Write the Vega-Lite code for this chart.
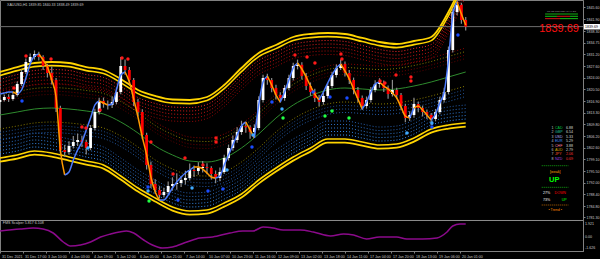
{
"$schema": "https://vega.github.io/schema/vega-lite/v6.json",
"background": "#000000",
"autosize": "none",
"padding": {"left": 0, "top": 0, "right": 17, "bottom": 8},
"width": 583,
"height": 251,
"config": {
  "view": {"stroke": "#808080", "strokeWidth": 1},
  "font": "Liberation Sans",
  "axis": {"grid": false, "labelFont": "Liberation Sans", "labelFontSize": 3.6, "labelColor": "#c8c8c8", "domainColor": "#808080", "tickColor": "#808080", "tickSize": 2, "labelPadding": 1}
},
"resolve": {"scale": {"x": "independent", "y": "independent", "color": "independent"}, "axis": {"x": "independent", "y": "independent"}},
"datasets": {
  "bands": [
    {"i":0,"u":1825.81,"m":1812.65,"lo":1799.50},
    {"i":12,"u":1827.33,"m":1813.57,"lo":1800.42},
    {"i":24,"u":1828.56,"m":1814.49,"lo":1801.64},
    {"i":36,"u":1828.86,"m":1814.79,"lo":1801.03},
    {"i":48,"u":1828.56,"m":1814.49,"lo":1799.80},
    {"i":60,"u":1827.33,"m":1813.88,"lo":1798.58},
    {"i":72,"u":1826.42,"m":1812.96,"lo":1797.36},
    {"i":84,"u":1823.67,"m":1810.51,"lo":1793.99},
    {"i":96,"u":1820.30,"m":1807.14,"lo":1790.32},
    {"i":108,"u":1818.47,"m":1803.17,"lo":1787.27},
    {"i":120,"u":1817.39,"m":1800.42,"lo":1784.51},
    {"i":132,"u":1817.24,"m":1798.58,"lo":1783.29},
    {"i":144,"u":1818.16,"m":1798.27,"lo":1783.59},
    {"i":156,"u":1821.83,"m":1799.50,"lo":1785.73},
    {"i":168,"u":1827.03,"m":1802.56,"lo":1788.48},
    {"i":180,"u":1831.62,"m":1806.84,"lo":1792.77},
    {"i":192,"u":1834.06,"m":1811.73,"lo":1796.44},
    {"i":204,"u":1836.51,"m":1815.71,"lo":1799.80},
    {"i":216,"u":1837.43,"m":1818.47,"lo":1802.56},
    {"i":228,"u":1837.74,"m":1820.30,"lo":1805.31},
    {"i":240,"u":1837.43,"m":1820.91,"lo":1805.31},
    {"i":252,"u":1836.21,"m":1820.61,"lo":1804.39},
    {"i":264,"u":1834.98,"m":1820.30,"lo":1803.47},
    {"i":276,"u":1834.37,"m":1820.61,"lo":1803.78},
    {"i":288,"u":1835.29,"m":1821.52,"lo":1805.62},
    {"i":300,"u":1836.51,"m":1822.75,"lo":1808.37},
    {"i":312,"u":1844.16,"m":1824.28,"lo":1809.59},
    {"i":324,"u":1855.48,"m":1825.81,"lo":1810.20}
  ],
  "candles": [
    {"i":0,"o":1816.63,"c":1817.24,"h":1818.2,"l":1815.9},
    {"i":3,"o":1817.24,"c":1818.16,"h":1818.9,"l":1816.8},
    {"i":6,"o":1818.16,"c":1817.55,"h":1819.0,"l":1816.6},
    {"i":9,"o":1817.55,"c":1818.77,"h":1819.8,"l":1817.0},
    {"i":12,"o":1818.77,"c":1822.13,"h":1822.9,"l":1818.3},
    {"i":15,"o":1822.13,"c":1825.81,"h":1826.6,"l":1821.5},
    {"i":18,"o":1825.81,"c":1828.86,"h":1829.9,"l":1825.2},
    {"i":21,"o":1828.86,"c":1830.39,"h":1831.5,"l":1828.0},
    {"i":24,"o":1830.39,"c":1831.31,"h":1832.4,"l":1829.6},
    {"i":27,"o":1831.31,"c":1830.39,"h":1832.0,"l":1829.3},
    {"i":30,"o":1830.39,"c":1827.64,"h":1830.9,"l":1826.4},
    {"i":33,"o":1827.64,"c":1825.50,"h":1828.3,"l":1824.1},
    {"i":36,"o":1825.50,"c":1823.36,"h":1827.5,"l":1822.0},
    {"i":39,"o":1823.36,"c":1814.79,"h":1824.0,"l":1813.6},
    {"i":42,"o":1814.79,"c":1801.94,"h":1815.5,"l":1800.8},
    {"i":45,"o":1801.94,"c":1801.33,"h":1803.5,"l":1799.9},
    {"i":48,"o":1801.33,"c":1803.17,"h":1804.6,"l":1800.5},
    {"i":51,"o":1803.17,"c":1804.39,"h":1806.2,"l":1802.4},
    {"i":54,"o":1804.39,"c":1805.00,"h":1807.0,"l":1803.2},
    {"i":57,"o":1805.00,"c":1804.39,"h":1806.3,"l":1802.9},
    {"i":60,"o":1804.39,"c":1802.56,"h":1805.1,"l":1800.6},
    {"i":63,"o":1802.56,"c":1808.67,"h":1809.6,"l":1801.9},
    {"i":66,"o":1808.67,"c":1813.57,"h":1814.6,"l":1807.9},
    {"i":69,"o":1813.57,"c":1816.93,"h":1817.9,"l":1812.8},
    {"i":72,"o":1816.93,"c":1816.02,"h":1818.0,"l":1814.9},
    {"i":75,"o":1816.02,"c":1815.70,"h":1817.1,"l":1814.3},
    {"i":78,"o":1815.70,"c":1816.63,"h":1818.4,"l":1814.8},
    {"i":81,"o":1816.63,"c":1819.69,"h":1821.0,"l":1815.9},
    {"i":84,"o":1819.69,"c":1827.64,"h":1830.4,"l":1819.0},
    {"i":87,"o":1827.64,"c":1826.42,"h":1829.6,"l":1825.0},
    {"i":90,"o":1826.42,"c":1823.36,"h":1827.3,"l":1822.2},
    {"i":93,"o":1823.36,"c":1816.63,"h":1824.0,"l":1815.4},
    {"i":96,"o":1816.63,"c":1813.57,"h":1817.6,"l":1812.3},
    {"i":99,"o":1813.57,"c":1806.53,"h":1814.4,"l":1805.2},
    {"i":102,"o":1806.53,"c":1797.36,"h":1807.2,"l":1796.0},
    {"i":105,"o":1797.36,"c":1791.54,"h":1798.4,"l":1790.3},
    {"i":108,"o":1791.54,"c":1789.71,"h":1793.0,"l":1788.6},
    {"i":111,"o":1789.71,"c":1788.18,"h":1790.9,"l":1787.2},
    {"i":114,"o":1788.18,"c":1789.10,"h":1790.4,"l":1787.4},
    {"i":117,"o":1789.10,"c":1790.93,"h":1792.3,"l":1788.5},
    {"i":120,"o":1790.93,"c":1791.54,"h":1793.6,"l":1789.5},
    {"i":123,"o":1791.54,"c":1791.85,"h":1794.8,"l":1789.8},
    {"i":126,"o":1791.85,"c":1792.77,"h":1794.0,"l":1790.6},
    {"i":129,"o":1792.77,"c":1793.38,"h":1795.6,"l":1791.4},
    {"i":132,"o":1793.38,"c":1795.83,"h":1797.8,"l":1792.6},
    {"i":135,"o":1795.83,"c":1795.52,"h":1797.2,"l":1793.7},
    {"i":138,"o":1795.52,"c":1796.44,"h":1798.2,"l":1794.4},
    {"i":141,"o":1796.44,"c":1796.75,"h":1798.6,"l":1795.1},
    {"i":144,"o":1796.75,"c":1796.44,"h":1797.9,"l":1794.5},
    {"i":147,"o":1796.44,"c":1794.60,"h":1797.0,"l":1792.9},
    {"i":150,"o":1794.60,"c":1793.38,"h":1795.7,"l":1791.8},
    {"i":153,"o":1793.38,"c":1795.22,"h":1796.6,"l":1792.4},
    {"i":156,"o":1795.22,"c":1799.50,"h":1800.5,"l":1794.6},
    {"i":159,"o":1799.50,"c":1802.56,"h":1803.6,"l":1798.7},
    {"i":162,"o":1802.56,"c":1805.00,"h":1806.4,"l":1801.7},
    {"i":165,"o":1805.00,"c":1807.45,"h":1808.9,"l":1804.2},
    {"i":168,"o":1807.45,"c":1809.29,"h":1810.9,"l":1806.6},
    {"i":171,"o":1809.29,"c":1808.90,"h":1810.6,"l":1807.2},
    {"i":174,"o":1808.90,"c":1807.45,"h":1809.5,"l":1805.4},
    {"i":177,"o":1807.45,"c":1808.67,"h":1809.8,"l":1805.9},
    {"i":180,"o":1808.67,"c":1817.24,"h":1818.4,"l":1808.0},
    {"i":183,"o":1817.24,"c":1823.97,"h":1825.0,"l":1816.5},
    {"i":186,"o":1823.97,"c":1823.36,"h":1825.3,"l":1821.9},
    {"i":189,"o":1823.36,"c":1820.91,"h":1824.0,"l":1819.6},
    {"i":192,"o":1820.91,"c":1818.77,"h":1821.9,"l":1817.4},
    {"i":195,"o":1818.77,"c":1817.85,"h":1819.6,"l":1816.4},
    {"i":198,"o":1817.85,"c":1820.91,"h":1821.8,"l":1817.0},
    {"i":201,"o":1820.91,"c":1823.97,"h":1825.0,"l":1820.2},
    {"i":204,"o":1823.97,"c":1827.64,"h":1828.6,"l":1823.2},
    {"i":207,"o":1827.64,"c":1828.00,"h":1829.6,"l":1826.6},
    {"i":210,"o":1828.00,"c":1824.58,"h":1828.8,"l":1823.5},
    {"i":213,"o":1824.58,"c":1821.52,"h":1825.5,"l":1820.3},
    {"i":216,"o":1821.52,"c":1819.69,"h":1822.6,"l":1818.5},
    {"i":219,"o":1819.69,"c":1817.85,"h":1820.7,"l":1816.6},
    {"i":222,"o":1817.85,"c":1816.63,"h":1818.8,"l":1815.3},
    {"i":225,"o":1816.63,"c":1818.47,"h":1819.5,"l":1815.8},
    {"i":228,"o":1818.47,"c":1821.52,"h":1822.5,"l":1817.7},
    {"i":231,"o":1821.52,"c":1824.89,"h":1825.9,"l":1820.8},
    {"i":234,"o":1824.89,"c":1827.03,"h":1828.1,"l":1824.1},
    {"i":237,"o":1827.03,"c":1828.25,"h":1829.6,"l":1826.4},
    {"i":240,"o":1828.25,"c":1825.50,"h":1829.0,"l":1824.4},
    {"i":243,"o":1825.50,"c":1823.36,"h":1826.4,"l":1822.1},
    {"i":246,"o":1823.36,"c":1820.30,"h":1824.1,"l":1819.0},
    {"i":249,"o":1820.30,"c":1817.85,"h":1821.2,"l":1816.6},
    {"i":252,"o":1817.85,"c":1815.40,"h":1818.6,"l":1814.2},
    {"i":255,"o":1815.40,"c":1817.24,"h":1818.3,"l":1814.6},
    {"i":258,"o":1817.24,"c":1820.30,"h":1821.2,"l":1816.5},
    {"i":261,"o":1820.30,"c":1822.13,"h":1823.3,"l":1819.6},
    {"i":264,"o":1822.13,"c":1822.44,"h":1823.9,"l":1821.0},
    {"i":267,"o":1822.44,"c":1820.91,"h":1823.2,"l":1819.7},
    {"i":270,"o":1820.91,"c":1819.07,"h":1821.7,"l":1817.6},
    {"i":273,"o":1819.07,"c":1820.30,"h":1823.4,"l":1818.3},
    {"i":276,"o":1820.30,"c":1818.77,"h":1821.0,"l":1817.6},
    {"i":279,"o":1818.77,"c":1815.40,"h":1819.4,"l":1814.1},
    {"i":282,"o":1815.40,"c":1811.73,"h":1816.1,"l":1810.4},
    {"i":285,"o":1811.73,"c":1812.65,"h":1813.8,"l":1810.8},
    {"i":288,"o":1812.65,"c":1816.02,"h":1817.9,"l":1811.8},
    {"i":291,"o":1816.02,"c":1814.79,"h":1816.8,"l":1813.5},
    {"i":294,"o":1814.79,"c":1813.57,"h":1815.5,"l":1812.2},
    {"i":297,"o":1813.57,"c":1812.65,"h":1814.3,"l":1811.4},
    {"i":300,"o":1812.65,"c":1811.43,"h":1813.3,"l":1809.5},
    {"i":303,"o":1811.43,"c":1813.57,"h":1814.5,"l":1810.7},
    {"i":306,"o":1813.57,"c":1817.24,"h":1818.2,"l":1812.9},
    {"i":309,"o":1817.24,"c":1819.69,"h":1821.0,"l":1816.5},
    {"i":312,"o":1819.69,"c":1832.53,"h":1833.6,"l":1819.0},
    {"i":315,"o":1832.53,"c":1844.16,"h":1845.3,"l":1831.8},
    {"i":318,"o":1844.16,"c":1846.30,"h":1847.6,"l":1843.2},
    {"i":321,"o":1846.30,"c":1841.71,"h":1847.0,"l":1840.6},
    {"i":324,"o":1841.71,"c":1839.69,"h":1842.6,"l":1838.5}
  ],
  "ma": [
    {"s":1,"d":"up","i":0,"v":1819.07},{"s":1,"d":"up","i":3,"v":1819.38},{"s":1,"d":"up","i":6,"v":1819.69},{"s":1,"d":"up","i":9,"v":1819.69},
    {"s":2,"d":"down","i":9,"v":1819.69},{"s":2,"d":"down","i":12,"v":1819.07},
    {"s":3,"d":"up","i":12,"v":1819.07},{"s":3,"d":"up","i":15,"v":1820.30},{"s":3,"d":"up","i":18,"v":1823.97},{"s":3,"d":"up","i":21,"v":1828.25},{"s":3,"d":"up","i":24,"v":1830.70},{"s":3,"d":"up","i":27,"v":1831.31},
    {"s":4,"d":"down","i":27,"v":1831.31},{"s":4,"d":"down","i":30,"v":1829.48},{"s":4,"d":"down","i":33,"v":1827.33},{"s":4,"d":"down","i":36,"v":1823.36},{"s":4,"d":"down","i":39,"v":1818.16},{"s":4,"d":"down","i":42,"v":1801.94},{"s":4,"d":"down","i":45,"v":1794.30},
    {"s":5,"d":"up","i":45,"v":1794.30},{"s":5,"d":"up","i":48,"v":1795.22},{"s":5,"d":"up","i":51,"v":1798.89},{"s":5,"d":"up","i":54,"v":1801.94},{"s":5,"d":"up","i":57,"v":1804.39},{"s":5,"d":"up","i":60,"v":1808.06},{"s":5,"d":"up","i":63,"v":1811.73},{"s":5,"d":"up","i":66,"v":1815.71},{"s":5,"d":"up","i":69,"v":1816.93},
    {"s":6,"d":"down","i":69,"v":1816.93},{"s":6,"d":"down","i":72,"v":1816.32},{"s":6,"d":"down","i":75,"v":1815.71},
    {"s":7,"d":"up","i":75,"v":1815.71},{"s":7,"d":"up","i":78,"v":1816.02},{"s":7,"d":"up","i":81,"v":1820.30},{"s":7,"d":"up","i":84,"v":1824.89},{"s":7,"d":"up","i":87,"v":1825.81},
    {"s":8,"d":"down","i":87,"v":1825.81},{"s":8,"d":"down","i":90,"v":1822.75},{"s":8,"d":"down","i":93,"v":1817.55},{"s":8,"d":"down","i":96,"v":1812.04},{"s":8,"d":"down","i":99,"v":1805.92},{"s":8,"d":"down","i":102,"v":1800.42},{"s":8,"d":"down","i":105,"v":1793.69},{"s":8,"d":"down","i":108,"v":1789.10},{"s":8,"d":"down","i":111,"v":1786.65},
    {"s":9,"d":"up","i":111,"v":1786.65},{"s":9,"d":"up","i":114,"v":1786.65},{"s":9,"d":"up","i":117,"v":1788.18},{"s":9,"d":"up","i":120,"v":1790.32},{"s":9,"d":"up","i":123,"v":1792.16},{"s":9,"d":"up","i":126,"v":1793.69},{"s":9,"d":"up","i":129,"v":1794.91},{"s":9,"d":"up","i":132,"v":1795.83},{"s":9,"d":"up","i":135,"v":1796.75},
    {"s":10,"d":"down","i":135,"v":1796.75},{"s":10,"d":"down","i":138,"v":1796.75},{"s":10,"d":"down","i":141,"v":1796.13},{"s":10,"d":"down","i":144,"v":1794.91},{"s":10,"d":"down","i":147,"v":1793.69},{"s":10,"d":"down","i":150,"v":1793.38},
    {"s":11,"d":"up","i":150,"v":1793.38},{"s":11,"d":"up","i":153,"v":1793.99},{"s":11,"d":"up","i":156,"v":1797.36},{"s":11,"d":"up","i":159,"v":1800.42},{"s":11,"d":"up","i":162,"v":1803.47},{"s":11,"d":"up","i":165,"v":1806.53},{"s":11,"d":"up","i":168,"v":1809.29},{"s":11,"d":"up","i":171,"v":1810.51},
    {"s":12,"d":"down","i":171,"v":1810.51},{"s":12,"d":"down","i":174,"v":1808.06},{"s":12,"d":"down","i":177,"v":1805.62},
    {"s":13,"d":"up","i":177,"v":1805.62},{"s":13,"d":"up","i":180,"v":1815.71},{"s":13,"d":"up","i":183,"v":1822.75},{"s":13,"d":"up","i":186,"v":1824.58},
    {"s":14,"d":"down","i":186,"v":1824.58},{"s":14,"d":"down","i":189,"v":1821.83},{"s":14,"d":"down","i":192,"v":1818.77},{"s":14,"d":"down","i":195,"v":1816.63},
    {"s":15,"d":"up","i":195,"v":1816.63},{"s":15,"d":"up","i":198,"v":1819.69},{"s":15,"d":"up","i":201,"v":1823.36},{"s":15,"d":"up","i":204,"v":1827.03},{"s":15,"d":"up","i":207,"v":1828.56},
    {"s":16,"d":"down","i":207,"v":1828.56},{"s":16,"d":"down","i":210,"v":1826.72},{"s":16,"d":"down","i":213,"v":1824.28},{"s":16,"d":"down","i":216,"v":1821.52},{"s":16,"d":"down","i":219,"v":1819.07},{"s":16,"d":"down","i":222,"v":1817.24},
    {"s":17,"d":"up","i":222,"v":1817.24},{"s":17,"d":"up","i":225,"v":1819.69},{"s":17,"d":"up","i":228,"v":1822.44},{"s":17,"d":"up","i":231,"v":1824.89},{"s":17,"d":"up","i":234,"v":1827.03},{"s":17,"d":"up","i":237,"v":1828.25},
    {"s":18,"d":"down","i":237,"v":1828.25},{"s":18,"d":"down","i":240,"v":1826.11},{"s":18,"d":"down","i":243,"v":1823.67},{"s":18,"d":"down","i":246,"v":1820.61},{"s":18,"d":"down","i":249,"v":1817.55},{"s":18,"d":"down","i":252,"v":1814.49},
    {"s":19,"d":"up","i":252,"v":1814.49},{"s":19,"d":"up","i":255,"v":1816.63},{"s":19,"d":"up","i":258,"v":1819.69},{"s":19,"d":"up","i":261,"v":1822.13},{"s":19,"d":"up","i":264,"v":1822.75},
    {"s":20,"d":"down","i":264,"v":1822.75},{"s":20,"d":"down","i":267,"v":1821.52},{"s":20,"d":"down","i":270,"v":1820.61},{"s":20,"d":"down","i":273,"v":1819.38},{"s":20,"d":"down","i":276,"v":1817.85},{"s":20,"d":"down","i":279,"v":1815.10},{"s":20,"d":"down","i":282,"v":1812.35},{"s":20,"d":"down","i":285,"v":1811.73},
    {"s":21,"d":"up","i":285,"v":1811.73},{"s":21,"d":"up","i":288,"v":1814.79},
    {"s":22,"d":"down","i":288,"v":1814.79},{"s":22,"d":"down","i":291,"v":1815.40},{"s":22,"d":"down","i":294,"v":1814.18},{"s":22,"d":"down","i":297,"v":1812.65},{"s":22,"d":"down","i":300,"v":1811.12},
    {"s":23,"d":"up","i":300,"v":1811.12},{"s":23,"d":"up","i":303,"v":1812.96},{"s":23,"d":"up","i":306,"v":1816.32},{"s":23,"d":"up","i":309,"v":1819.69},{"s":23,"d":"up","i":312,"v":1829.48},{"s":23,"d":"up","i":315,"v":1843.24},{"s":23,"d":"up","i":318,"v":1847.22},
    {"s":24,"d":"down","i":318,"v":1847.22},{"s":24,"d":"down","i":321,"v":1843.55},{"s":24,"d":"down","i":324,"v":1840.18}
  ],
  "sig": [
    {"k":"r","i":9.7,"p":1820.91},{"k":"r","i":18.1,"p":1830.70},{"k":"r","i":35.5,"p":1829.78},{"k":"r","i":57,"p":1808.98},{"k":"r","i":59.8,"p":1808.67},{"k":"r","i":69.6,"p":1814.18},{"k":"r","i":84.9,"p":1830.09},{"k":"r","i":89,"p":1829.78},{"k":"r","i":105,"p":1804.39},{"k":"r","i":120.4,"p":1794.60},{"k":"r","i":128.7,"p":1799.50},{"k":"r","i":141.2,"p":1797.36},{"k":"r","i":150.3,"p":1805.6},{"k":"r","i":150.3,"p":1804.4},{"k":"r","i":205.2,"p":1831.01},{"k":"r","i":213.6,"p":1830.39},{"k":"r","i":219.1,"p":1828.56},{"k":"r","i":237.2,"p":1831.31},{"k":"r","i":237.9,"p":1829.78},{"k":"r","i":264.4,"p":1823.05},{"k":"r","i":267.8,"p":1822.44},{"k":"r","i":275.5,"p":1824.89},{"k":"r","i":285.9,"p":1824.28},{"k":"r","i":285.9,"p":1823.05},
    {"k":"b","i":15.3,"p":1816.93},{"k":"b","i":103,"p":1790.63},{"k":"b","i":123.8,"p":1786.65},{"k":"b","i":144.7,"p":1789.40},{"k":"b","i":155.1,"p":1790.01},{"k":"b","i":175.3,"p":1802.86},{"k":"b","i":189.2,"p":1816.63},{"k":"b","i":217.8,"p":1819.69},{"k":"b","i":229.6,"p":1818.16},{"k":"b","i":241.4,"p":1817.85},{"k":"b","i":300.5,"p":1808.98},{"k":"b","i":318.6,"p":1837.12},
    {"k":"lb","i":61.2,"p":1802.56},{"k":"lb","i":103,"p":1789.4},{"k":"lb","i":133.6,"p":1790.32},{"k":"lb","i":157.9,"p":1795.83},{"k":"lb","i":176,"p":1806.53},{"k":"lb","i":196.2,"p":1814.49},{"k":"lb","i":283.1,"p":1807.14},{"k":"lb","i":300.5,"p":1810.2},
    {"k":"g","i":103.7,"p":1786.34},{"k":"g","i":196.9,"p":1811.73},{"k":"g","i":226.1,"p":1812.35},{"k":"g","i":231,"p":1813.88},{"k":"g","i":242.8,"p":1811.73}
  ],
  "osc": [
    {"i":0,"v":0.887},{"i":14,"v":1.182},{"i":23,"v":1.330},{"i":30,"v":1.182},{"i":37,"v":0.591},{"i":44,"v":-0.739},{"i":49,"v":-1.330},{"i":56,"v":-1.182},{"i":63,"v":-0.739},{"i":70,"v":0},{"i":77,"v":0.443},{"i":83,"v":0.739},{"i":88,"v":0.887},{"i":93,"v":0.591},{"i":100,"v":-0.443},{"i":106,"v":-1.182},{"i":113,"v":-1.626},{"i":120,"v":-1.478},{"i":130,"v":-0.739},{"i":139,"v":-0.148},{"i":148,"v":0},{"i":160,"v":0.591},{"i":169,"v":0.887},{"i":176,"v":0.887},{"i":183,"v":1.478},{"i":190,"v":1.330},{"i":197,"v":1.035},{"i":209,"v":1.035},{"i":218,"v":0.739},{"i":230,"v":0.148},{"i":239,"v":0.443},{"i":246,"v":0.296},{"i":255,"v":-0.296},{"i":264,"v":0},{"i":276,"v":0},{"i":283,"v":-0.296},{"i":294,"v":-0.296},{"i":304,"v":-0.148},{"i":311,"v":0.739},{"i":315,"v":1.626},{"i":320,"v":1.921},{"i":324,"v":1.921}
  ],
  "hlines": [{"i":0,"i2":405.6,"p":1839.69,"k":"bid"},{"i":0,"i2":405.6,"p":1780.38,"k":"sep"}],
  "tag": [{"i":406.3,"i2":417.4,"p":1840.49,"p2":1838.81,"t":"1839.69","ti":407.0,"tp":1839.62}],
  "title": [{"i":4.9,"p":1846.3,"t":"XAUUSD,H1  1839.85 1840.33 1838.49 1839.69"}],
  "big": [{"i":402.8,"p":1839.08,"t":"1839.69"}],
  "tbl": [
    {"i":383.7,"p":1808.77,"t":"1"},{"i":383.7,"p":1807.36,"t":"2"},{"i":383.7,"p":1806.01,"t":"3"},{"i":383.7,"p":1804.64,"t":"4"},{"i":383.7,"p":1803.29,"t":"5"},{"i":383.7,"p":1801.95,"t":"6"},{"i":383.7,"p":1800.63,"t":"7"},{"i":383.7,"p":1799.32,"t":"8"},
    {"i":386.1,"p":1808.77,"t":"CAD"},{"i":386.1,"p":1807.36,"t":"GBP"},{"i":386.1,"p":1806.01,"t":"USD"},{"i":386.1,"p":1804.64,"t":"EUR"},{"i":386.1,"p":1803.29,"t":"CHF"},{"i":386.1,"p":1801.95,"t":"AUD"},{"i":386.1,"p":1800.63,"t":"JPY"},{"i":386.1,"p":1799.32,"t":"NZD"},
    {"i":393.8,"p":1808.77,"t":"6.88"},{"i":393.8,"p":1807.36,"t":"6.54"},{"i":393.8,"p":1806.01,"t":"5.33"},{"i":393.8,"p":1804.64,"t":"5.29"},{"i":393.8,"p":1803.29,"t":"3.88"},{"i":393.8,"p":1801.95,"t":"2.79"},{"i":393.8,"p":1800.63,"t":"2.06"},{"i":393.8,"p":1799.32,"t":"0.69"}
  ],
  "pnlc": [{"i":386.3,"p":1795.2,"t":"[weak]"},{"i":386.3,"p":1783.7,"t":"•   Trend   •"}],
  "pnll": [{"i":377.8,"p":1788.7,"t":"27%"},{"i":385.8,"p":1788.7,"t":"DOWN"},{"i":377.8,"p":1786.65,"t":"73%"},{"i":390.8,"p":1786.65,"t":"UP"}],
  "bigup": [{"i":385.6,"p":1792.67,"t":"UP"}],
  "prule": [{"i":376.9,"i2":395.4,"p":1797.14,"k":"g"},{"i":376.9,"i2":395.4,"p":1790.53,"k":"g"},{"i":376.9,"i2":395.4,"p":1785.12,"k":"o"}],
  "mini": [
    {"i":379.2,"i2":402.1,"p":1843.55,"k":"G"},
    {"i":379.2,"i2":387.5,"p":1842.84,"k":"G"},{"i":387.5,"i2":396.6,"p":1842.84,"k":"R"},{"i":396.6,"i2":402.1,"p":1842.84,"k":"G"},
    {"i":379.2,"i2":389.6,"p":1842.14,"k":"R"},{"i":389.6,"i2":402.1,"p":1842.14,"k":"G"}
  ],
  "minit": [{"i":390.6,"p":1844.35,"t":"M1  M5  M15  M30  H1  H4  D1"}],
  "osct": [{"i":2,"v":2.07,"t":"FMS Scalper 5.817 6.108"}],
  "oscl": [{"i":407.0,"v":1.921,"t":"1.921"},{"i":407.0,"v":0,"t":"0.00"},{"i":407.0,"v":-1.626,"t":"-1.626"}]
},
"encoding": {"x": {"field": "i", "type": "quantitative", "scale": {"domain": [0, 405.6]}, "axis": null}},
"layer": [
  {"data": {"name": "bands"}, "mark": {"type": "line", "color": "#ff2a2a", "strokeWidth": 1, "strokeDash": [1, 2], "interpolate": "monotone", "clip": true, "yOffset": 7.5}, "encoding": {"y": {"field": "u", "type": "quantitative", "scale": {"domain": [1771.05, 1847.83]}, "axis": {"orient": "right", "title": null, "values": [1781.3,1784.8,1788.4,1792,1795.5,1799.1,1802.6,1806.2,1809.8,1813.3,1816.9,1820.5,1824,1827.6,1831.2,1834.75,1838.3,1841.9,1845.6], "format": ".2f", "labelFlush": false, "labelOverlap": false, "labelBound": false}}}},
  {"data": {"name": "bands"}, "mark": {"type": "line", "color": "#e01c1c", "strokeWidth": 1, "strokeDash": [1, 2], "interpolate": "monotone", "clip": true, "yOffset": 11}, "encoding": {"y": {"field": "u", "type": "quantitative", "scale": {"domain": [1771.05, 1847.83]}, "axis": null}}},
  {"data": {"name": "bands"}, "mark": {"type": "line", "color": "#c81414", "strokeWidth": 1, "strokeDash": [1, 2], "interpolate": "monotone", "clip": true, "yOffset": 14.5}, "encoding": {"y": {"field": "u", "type": "quantitative", "scale": {"domain": [1771.05, 1847.83]}, "axis": null}}},
  {"data": {"name": "bands"}, "mark": {"type": "line", "color": "#b00c0c", "strokeWidth": 1, "strokeDash": [1, 2], "interpolate": "monotone", "clip": true, "yOffset": 18}, "encoding": {"y": {"field": "u", "type": "quantitative", "scale": {"domain": [1771.05, 1847.83]}, "axis": null}}},
  {"data": {"name": "bands"}, "mark": {"type": "line", "color": "#980808", "strokeWidth": 1, "strokeDash": [1, 2], "interpolate": "monotone", "clip": true, "yOffset": 21.5}, "encoding": {"y": {"field": "u", "type": "quantitative", "scale": {"domain": [1771.05, 1847.83]}, "axis": null}}},
  {"data": {"name": "bands"}, "mark": {"type": "line", "color": "#880404", "strokeWidth": 1, "strokeDash": [1, 2], "interpolate": "monotone", "clip": true, "yOffset": -24}, "encoding": {"y": {"field": "m", "type": "quantitative", "scale": {"domain": [1771.05, 1847.83]}, "axis": null}}},
  {"data": {"name": "bands"}, "mark": {"type": "line", "color": "#8a7d00", "strokeWidth": 1, "strokeDash": [1, 2], "interpolate": "monotone", "clip": true, "yOffset": -20.5}, "encoding": {"y": {"field": "m", "type": "quantitative", "scale": {"domain": [1771.05, 1847.83]}, "axis": null}}},
  {"data": {"name": "bands"}, "mark": {"type": "line", "color": "#700000", "strokeWidth": 1, "strokeDash": [1, 2], "interpolate": "monotone", "clip": true, "yOffset": -17}, "encoding": {"y": {"field": "m", "type": "quantitative", "scale": {"domain": [1771.05, 1847.83]}, "axis": null}}},
  {"data": {"name": "bands"}, "mark": {"type": "line", "color": "#5c0000", "strokeWidth": 1, "strokeDash": [1, 2], "interpolate": "monotone", "clip": true, "yOffset": -13.5}, "encoding": {"y": {"field": "m", "type": "quantitative", "scale": {"domain": [1771.05, 1847.83]}, "axis": null}}},
  {"data": {"name": "bands"}, "mark": {"type": "line", "color": "#3a90f0", "strokeWidth": 1, "strokeDash": [1, 2], "interpolate": "monotone", "clip": true, "yOffset": -4}, "encoding": {"y": {"field": "lo", "type": "quantitative", "scale": {"domain": [1771.05, 1847.83]}, "axis": null}}},
  {"data": {"name": "bands"}, "mark": {"type": "line", "color": "#3584e0", "strokeWidth": 1, "strokeDash": [1, 2], "interpolate": "monotone", "clip": true, "yOffset": -7.5}, "encoding": {"y": {"field": "lo", "type": "quantitative", "scale": {"domain": [1771.05, 1847.83]}, "axis": null}}},
  {"data": {"name": "bands"}, "mark": {"type": "line", "color": "#3078d0", "strokeWidth": 1, "strokeDash": [1, 2], "interpolate": "monotone", "clip": true, "yOffset": -11}, "encoding": {"y": {"field": "lo", "type": "quantitative", "scale": {"domain": [1771.05, 1847.83]}, "axis": null}}},
  {"data": {"name": "bands"}, "mark": {"type": "line", "color": "#2b6cc0", "strokeWidth": 1, "strokeDash": [1, 2], "interpolate": "monotone", "clip": true, "yOffset": -14.5}, "encoding": {"y": {"field": "lo", "type": "quantitative", "scale": {"domain": [1771.05, 1847.83]}, "axis": null}}},
  {"data": {"name": "bands"}, "mark": {"type": "line", "color": "#2660b0", "strokeWidth": 1, "strokeDash": [1, 2], "interpolate": "monotone", "clip": true, "yOffset": -18}, "encoding": {"y": {"field": "lo", "type": "quantitative", "scale": {"domain": [1771.05, 1847.83]}, "axis": null}}},
  {"data": {"name": "bands"}, "mark": {"type": "line", "color": "#8a7d00", "strokeWidth": 1, "strokeDash": [1, 2], "interpolate": "monotone", "clip": true, "yOffset": 14}, "encoding": {"y": {"field": "m", "type": "quantitative", "scale": {"domain": [1771.05, 1847.83]}, "axis": null}}},
  {"data": {"name": "bands"}, "mark": {"type": "line", "color": "#1f4c8c", "strokeWidth": 1, "strokeDash": [1, 2], "interpolate": "monotone", "clip": true, "yOffset": 17.5}, "encoding": {"y": {"field": "m", "type": "quantitative", "scale": {"domain": [1771.05, 1847.83]}, "axis": null}}},
  {"data": {"name": "bands"}, "mark": {"type": "line", "color": "#22549a", "strokeWidth": 1, "strokeDash": [1, 2], "interpolate": "monotone", "clip": true, "yOffset": 21}, "encoding": {"y": {"field": "m", "type": "quantitative", "scale": {"domain": [1771.05, 1847.83]}, "axis": null}}},
  {"data": {"name": "bands"}, "mark": {"type": "line", "color": "#245aa6", "strokeWidth": 1, "strokeDash": [1, 2], "interpolate": "monotone", "clip": true, "yOffset": 24.5}, "encoding": {"y": {"field": "m", "type": "quantitative", "scale": {"domain": [1771.05, 1847.83]}, "axis": null}}},
  {"data": {"name": "bands"}, "mark": {"type": "line", "color": "#2e8b2e", "strokeWidth": 1, "interpolate": "monotone", "clip": true}, "encoding": {"y": {"field": "m", "type": "quantitative", "scale": {"domain": [1771.05, 1847.83]}, "axis": null}}},
  {"data": {"name": "bands"}, "mark": {"type": "line", "color": "#ffd400", "strokeWidth": 1.8, "interpolate": "monotone", "clip": true}, "encoding": {"y": {"field": "u", "type": "quantitative", "scale": {"domain": [1771.05, 1847.83]}, "axis": null}}},
  {"data": {"name": "bands"}, "mark": {"type": "line", "color": "#ffd400", "strokeWidth": 1.6, "interpolate": "monotone", "clip": true, "yOffset": 3.6}, "encoding": {"y": {"field": "u", "type": "quantitative", "scale": {"domain": [1771.05, 1847.83]}, "axis": null}}},
  {"data": {"name": "bands"}, "mark": {"type": "line", "color": "#ffd400", "strokeWidth": 1.6, "interpolate": "monotone", "clip": true}, "encoding": {"y": {"field": "lo", "type": "quantitative", "scale": {"domain": [1771.05, 1847.83]}, "axis": null}}},
  {"data": {"name": "bands"}, "mark": {"type": "line", "color": "#ffd400", "strokeWidth": 1.8, "interpolate": "monotone", "clip": true, "yOffset": 3.6}, "encoding": {"y": {"field": "lo", "type": "quantitative", "scale": {"domain": [1771.05, 1847.83]}, "axis": null}}},
  {"data": {"name": "hlines"}, "mark": {"type": "rule", "strokeWidth": 1}, "encoding": {"x2": {"field": "i2"}, "y": {"field": "p", "type": "quantitative", "scale": {"domain": [1771.05, 1847.83]}, "axis": null}, "color": {"field": "k", "type": "nominal", "scale": {"domain": ["bid", "sep"], "range": ["#6e6e6e", "#8c8c8c"]}, "legend": null}}},
  {"data": {"name": "candles"}, "mark": {"type": "rule", "color": "#8c8c8c", "strokeWidth": 1.2, "clip": true}, "encoding": {"y": {"field": "l", "type": "quantitative", "scale": {"domain": [1771.05, 1847.83]}, "axis": null}, "y2": {"field": "h"}}},
  {"data": {"name": "candles"}, "mark": {"type": "rule", "strokeWidth": 2.8, "clip": true}, "encoding": {"y": {"field": "o", "type": "quantitative", "scale": {"domain": [1771.05, 1847.83]}, "axis": null}, "y2": {"field": "c"}, "color": {"condition": {"test": "datum.c >= datum.o", "value": "#ffffff"}, "value": "#ff0000"}}},
  {"data": {"name": "ma"}, "mark": {"type": "line", "strokeWidth": 1.5, "interpolate": "monotone", "clip": true}, "encoding": {"y": {"field": "v", "type": "quantitative", "scale": {"domain": [1771.05, 1847.83]}, "axis": null}, "detail": {"field": "s", "type": "nominal"}, "color": {"field": "d", "type": "nominal", "scale": {"domain": ["up", "down"], "range": ["#4d7cff", "#ff9a00"]}, "legend": null}}},
  {"data": {"name": "sig"}, "mark": {"type": "point", "filled": true, "size": 12, "opacity": 1, "clip": true}, "encoding": {"y": {"field": "p", "type": "quantitative", "scale": {"domain": [1771.05, 1847.83]}, "axis": null}, "color": {"field": "k", "type": "nominal", "scale": {"domain": ["r", "b", "lb", "g"], "range": ["#ff1a1a", "#1a4cff", "#3fa9ff", "#22ff44"]}, "legend": null}}},
  {"data": {"name": "title"}, "mark": {"type": "text", "align": "left", "baseline": "middle", "fontSize": 3.6, "color": "#c8c8c8"}, "encoding": {"y": {"field": "p", "type": "quantitative", "scale": {"domain": [1771.05, 1847.83]}, "axis": null}, "text": {"field": "t"}}},
  {"data": {"name": "big"}, "mark": {"type": "text", "align": "right", "baseline": "middle", "fontSize": 11, "color": "#ff1010"}, "encoding": {"y": {"field": "p", "type": "quantitative", "scale": {"domain": [1771.05, 1847.83]}, "axis": null}, "text": {"field": "t"}}},
  {"data": {"name": "mini"}, "mark": {"type": "rule", "strokeWidth": 1.1}, "encoding": {"x2": {"field": "i2"}, "y": {"field": "p", "type": "quantitative", "scale": {"domain": [1771.05, 1847.83]}, "axis": null}, "color": {"field": "k", "type": "nominal", "scale": {"domain": ["G", "R"], "range": ["#10b010", "#c01010"]}, "legend": null}}},
  {"data": {"name": "minit"}, "mark": {"type": "text", "align": "center", "baseline": "middle", "fontSize": 2.4, "color": "#a0a0a0"}, "encoding": {"y": {"field": "p", "type": "quantitative", "scale": {"domain": [1771.05, 1847.83]}, "axis": null}, "text": {"field": "t"}}},
  {"data": {"name": "tbl"}, "mark": {"type": "text", "align": "left", "baseline": "middle", "fontSize": 3.6}, "encoding": {"y": {"field": "p", "type": "quantitative", "scale": {"domain": [1771.05, 1847.83]}, "axis": null}, "text": {"field": "t"}, "color": {"field": "t", "type": "nominal", "scale": {"domain": ["1","2","3","4","5","6","7","8","CAD","GBP","USD","EUR","CHF","AUD","JPY","NZD","6.88","6.54","5.33","5.29","3.88","2.79","2.06","0.69"], "range": ["#c0c0c0","#c0c0c0","#c0c0c0","#c0c0c0","#c0c0c0","#c0c0c0","#c0c0c0","#c0c0c0","#00c040","#20c0a0","#b0b0ff","#4090ff","#ff80a0","#d0a000","#ff5030","#a040e0","#d8d8d8","#d8d8d8","#d8d8d8","#d8d8d8","#d8d8d8","#d8d8d8","#ff3030","#ff3030"]}, "legend": null}}},
  {"data": {"name": "prule"}, "mark": {"type": "rule", "strokeWidth": 1, "strokeDash": [1, 1]}, "encoding": {"x2": {"field": "i2"}, "y": {"field": "p", "type": "quantitative", "scale": {"domain": [1771.05, 1847.83]}, "axis": null}, "color": {"field": "k", "type": "nominal", "scale": {"domain": ["g", "o"], "range": ["#10a010", "#b06000"]}, "legend": null}}},
  {"data": {"name": "pnlc"}, "mark": {"type": "text", "align": "center", "baseline": "middle", "fontSize": 3.6}, "encoding": {"y": {"field": "p", "type": "quantitative", "scale": {"domain": [1771.05, 1847.83]}, "axis": null}, "text": {"field": "t"}, "color": {"field": "t", "type": "nominal", "scale": {"domain": ["[weak]", "•   Trend   •"], "range": ["#ffa500", "#ff8c00"]}, "legend": null}}},
  {"data": {"name": "pnll"}, "mark": {"type": "text", "align": "left", "baseline": "middle", "fontSize": 3.6}, "encoding": {"y": {"field": "p", "type": "quantitative", "scale": {"domain": [1771.05, 1847.83]}, "axis": null}, "text": {"field": "t"}, "color": {"field": "t", "type": "nominal", "scale": {"domain": ["27%", "DOWN", "73%", "UP"], "range": ["#ffffff", "#ff0000", "#ffffff", "#00ff00"]}, "legend": null}}},
  {"data": {"name": "bigup"}, "mark": {"type": "text", "align": "center", "baseline": "middle", "fontSize": 7.5, "fontWeight": "bold", "color": "#00ff00"}, "encoding": {"y": {"field": "p", "type": "quantitative", "scale": {"domain": [1771.05, 1847.83]}, "axis": null}, "text": {"field": "t"}}},
  {"data": {"name": "osc"}, "mark": {"type": "line", "color": "#8b0a8b", "strokeWidth": 1.5, "interpolate": "monotone"}, "encoding": {
    "x": {"field": "i", "type": "quantitative", "scale": {"domain": [0, 405.6]}, "axis": {"orient": "bottom", "title": null, "values": [0,16,32,48,64,80,96,112,128,144,160,176,192,208,224,240,256,272,288,304,320], "labelExpr": "['31 Dec 2021','31 Dec 17:00','3 Jan 10:00','4 Jan 03:00','4 Jan 19:00','5 Jan 12:00','6 Jan 05:00','6 Jan 21:00','7 Jan 14:00','10 Jan 07:00','10 Jan 23:00','11 Jan 16:00','12 Jan 09:00','13 Jan 02:00','13 Jan 18:00','14 Jan 11:00','17 Jan 04:00','17 Jan 20:00','18 Jan 13:00','19 Jan 06:00','20 Jan 01:00'][round(datum.value/16)]", "labelAlign": "left", "labelOffset": 1.5, "labelFlush": false, "labelOverlap": false, "labelBound": false}},
    "y": {"field": "v", "type": "quantitative", "scale": {"domain": [-2.069, 35.03]}, "axis": null}}},
  {"data": {"name": "osct"}, "mark": {"type": "text", "align": "left", "baseline": "middle", "fontSize": 3.6, "color": "#c8c8c8"}, "encoding": {"y": {"field": "v", "type": "quantitative", "scale": {"domain": [-2.069, 35.03]}, "axis": null}, "text": {"field": "t"}}},
  {"data": {"name": "oscl"}, "mark": {"type": "text", "align": "left", "baseline": "middle", "fontSize": 3.6, "color": "#c8c8c8", "clip": false}, "encoding": {"y": {"field": "v", "type": "quantitative", "scale": {"domain": [-2.069, 35.03]}, "axis": null}, "text": {"field": "t"}}},
  {"data": {"name": "tag"}, "mark": {"type": "rect", "color": "#ffffff", "clip": false}, "encoding": {"x2": {"field": "i2"}, "y": {"field": "p", "type": "quantitative", "scale": {"domain": [1771.05, 1847.83]}, "axis": null}, "y2": {"field": "p2"}}},
  {"data": {"name": "tag"}, "mark": {"type": "text", "align": "left", "baseline": "middle", "fontSize": 3.6, "color": "#000000", "clip": false}, "encoding": {"x": {"field": "ti", "type": "quantitative", "scale": {"domain": [0, 405.6]}, "axis": null}, "y": {"field": "tp", "type": "quantitative", "scale": {"domain": [1771.05, 1847.83]}, "axis": null}, "text": {"field": "t"}}}
]
}
